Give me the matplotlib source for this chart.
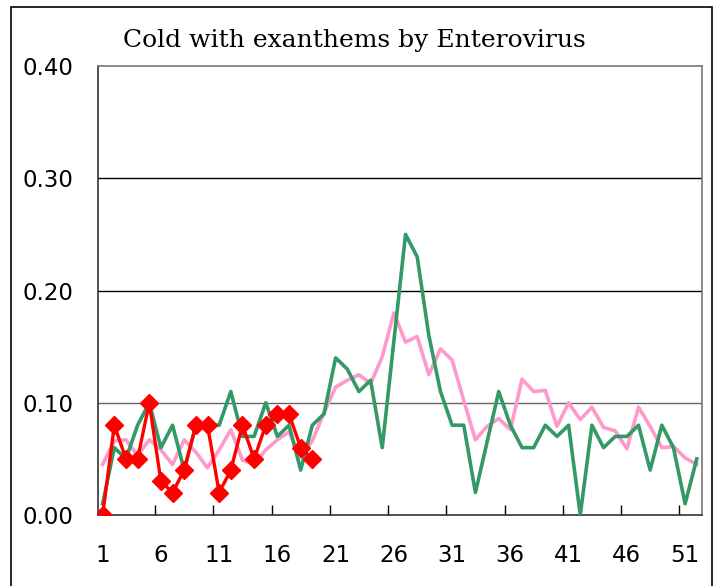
import numpy as np
import matplotlib
matplotlib.use("Agg")
import matplotlib.pyplot as plt
from matplotlib.patches import Rectangle

weeks = np.arange(1, 53)

# this season (weeks reported so far)
this_year = [0.00, 0.08, 0.05, 0.05, 0.10, 0.03, 0.02, 0.04, 0.08, 0.08,
             0.02, 0.04, 0.08, 0.05, 0.08, 0.09, 0.09, 0.06, 0.05]

# last season
last_year = [0.01, 0.06, 0.05, 0.08, 0.10, 0.06, 0.08, 0.04, 0.08, 0.08,
             0.08, 0.11, 0.07, 0.07, 0.10, 0.07, 0.08, 0.04, 0.08, 0.09,
             0.14, 0.13, 0.11, 0.12, 0.06, 0.155, 0.25, 0.23, 0.16, 0.11,
             0.08, 0.08, 0.02, 0.065, 0.11, 0.08, 0.06, 0.06, 0.08, 0.07,
             0.08, 0.00, 0.08, 0.06, 0.07, 0.07, 0.08, 0.04, 0.08, 0.06,
             0.01, 0.05]

# average of past years
average = [0.045, 0.066, 0.067, 0.053, 0.067, 0.058, 0.045, 0.067, 0.056, 0.042,
           0.058, 0.076, 0.049, 0.045, 0.058, 0.067, 0.074, 0.051, 0.066, 0.091,
           0.114, 0.120, 0.125, 0.117, 0.141, 0.180, 0.154, 0.159, 0.125, 0.148,
           0.138, 0.102, 0.067, 0.079, 0.086, 0.076, 0.121, 0.110, 0.111, 0.079,
           0.100, 0.085, 0.096, 0.078, 0.075, 0.059, 0.096, 0.079, 0.060, 0.061,
           0.051, 0.045]

fig = plt.figure(figsize=(7.19, 5.86), dpi=100)
ax = fig.add_axes([98/719, 1-515/586, (702-98)/719, (515-66)/586])

# outer frame around the whole chart
fig.patches.append(Rectangle((11/719, -0.05), (712-11)/719, 1.05-7/586,
                             transform=fig.transFigure, fill=False,
                             edgecolor='black', lw=1.2))

for yv, c in [(0.1, '#666666'), (0.2, 'black'), (0.3, 'black')]:
    ax.axhline(yv, color=c, lw=1, zorder=1)

ax.plot(weeks, average, color='#ff99cc', lw=2.6, zorder=2)
ax.plot(weeks, last_year, color='#339966', lw=2.6, zorder=3)
ax.plot(weeks[:len(this_year)], this_year, color='#ff0000', lw=2.4,
        marker='D', markersize=9, zorder=4)

ax.set_xlim(0.6, 52.45)
ax.set_ylim(0, 0.4)
ax.set_yticks([0, 0.1, 0.2, 0.3, 0.4])
ax.set_yticklabels(['0.00', '0.10', '0.20', '0.30', '0.40'])
ax.tick_params(axis='y', length=0, pad=18, labelsize=16.5)

ax.set_xticks(np.arange(5.5, 51, 5))
ax.set_xticklabels([])
ax.set_xticks(np.arange(1, 53, 5), minor=True)
ax.set_xticklabels([str(w) for w in range(1, 53, 5)], minor=True)
ax.tick_params(axis='x', which='major', direction='in', length=7, width=1)
ax.tick_params(axis='x', which='minor', length=0, pad=21, labelsize=16.5)

ax.spines['left'].set_color('#333333')
ax.spines['bottom'].set_color('#333333')
ax.spines['top'].set_color('#777777')
ax.spines['right'].set_color('#777777')
for s in ax.spines.values():
    s.set_linewidth(1.2)

fig.text(354/719, 1-40/586, 'Cold with exanthems by Enterovirus',
         ha='center', va='center', fontsize=18, family='DejaVu Serif')

plt.savefig('out.png', dpi=100)
